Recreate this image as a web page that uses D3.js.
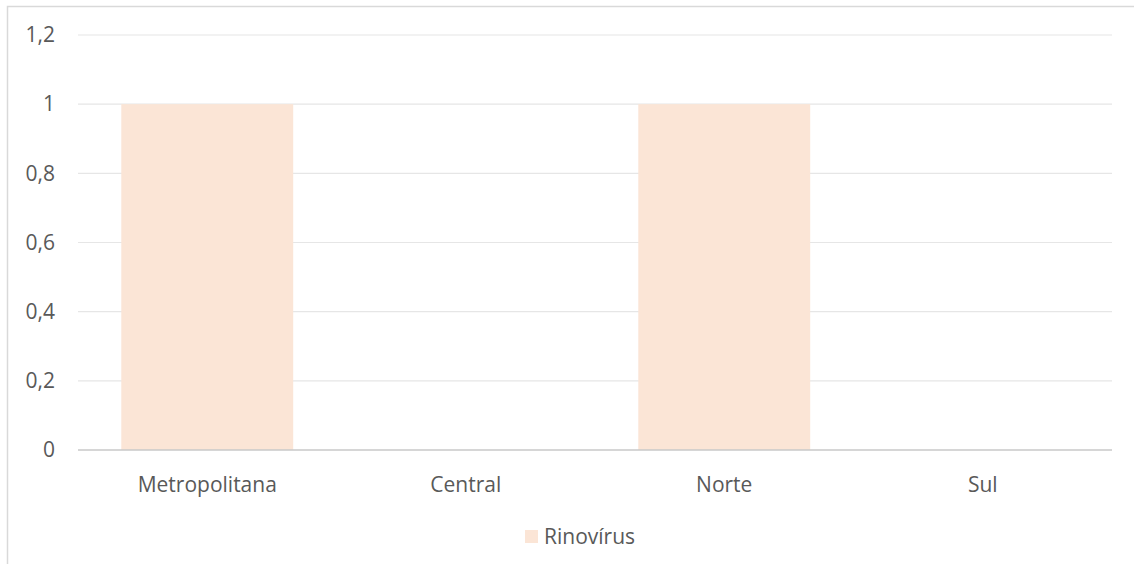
<!DOCTYPE html>
<html>
<head>
<meta charset="utf-8">
<script src="https://cdn.jsdelivr.net/npm/d3@7"></script>
<style>
  html, body { margin: 0; padding: 0; background: #fff; }
  svg { display: block; }
  text { font-family: "Open Sans", sans-serif; fill: #595959; }
</style>
</head>
<body>
<svg id="chart" width="1134" height="564"></svg>
<script>
// Regions and detections per region
const categories = ["Metropolitana", "Central", "Norte", "Sul"];
const rinovirus = [1, 0, 1, 0];
const seriesName = "Rinovírus";
const yTicks = [0, 0.2, 0.4, 0.6, 0.8, 1, 1.2];

const svg = d3.select("#chart");
const W = 1134, H = 564;
const plot = { left: 78, right: 1112, top: 35, bottom: 450 };
const FONT = "'Open Sans', sans-serif";
const FS = "21px";

// Chart frame (extends past the right and bottom edges)
svg.append("rect")
  .attr("x", 7.5).attr("y", 6.5)
  .attr("width", W + 20).attr("height", H + 20)
  .attr("fill", "#fff")
  .attr("stroke", "#d9d9d9").attr("stroke-width", 1.5);

const x = d3.scaleBand()
  .domain(categories)
  .range([plot.left, plot.right])
  .paddingInner(0.335)
  .paddingOuter(0.1675);

const y = d3.scaleLinear()
  .domain([0, 1.2])
  .range([plot.bottom, plot.top]);

const fmt = v => d3.format("")(v).replace(".", ",");

// Horizontal gridlines
svg.append("g")
  .selectAll("line")
  .data(yTicks.filter(t => t !== 0))
  .join("line")
  .attr("x1", plot.left).attr("x2", plot.right)
  .attr("y1", d => y(d)).attr("y2", d => y(d))
  .attr("stroke", "#e6e6e6").attr("stroke-width", 1.2);

// Y axis labels
const yAxis = d3.axisLeft(y).tickValues(yTicks).tickFormat(fmt).tickSize(0).tickPadding(0);
const gy = svg.append("g")
  .attr("transform", `translate(${plot.left - 23},0)`)
  .call(yAxis);
gy.select(".domain").remove();
gy.selectAll("text")
  .style("font-family", FONT)
  .style("font-size", FS)
  .attr("fill", "#595959");

// Bars
svg.append("g")
  .selectAll("rect")
  .data(categories.map((c, i) => ({ c, v: rinovirus[i] })))
  .join("rect")
  .attr("x", d => x(d.c))
  .attr("width", x.bandwidth())
  .attr("y", d => y(d.v))
  .attr("height", d => y(0) - y(d.v))
  .attr("fill", "#fbe5d6");

// Baseline
svg.append("line")
  .attr("x1", plot.left).attr("x2", plot.right)
  .attr("y1", y(0)).attr("y2", y(0))
  .attr("stroke", "#c8c8c8").attr("stroke-width", 1.5);

// X axis labels
const xAxis = d3.axisBottom(x).tickSize(0).tickPadding(0);
const gx = svg.append("g")
  .attr("transform", `translate(0,${plot.bottom + 27})`)
  .call(xAxis);
gx.select(".domain").remove();
gx.selectAll("text")
  .style("font-family", FONT)
  .style("font-size", FS)
  .attr("fill", "#595959");

// Legend
const lg = svg.append("g").attr("transform", "translate(525,530)");
lg.append("rect").attr("width", 13).attr("height", 13).attr("fill", "#fbe5d6");
lg.append("text")
  .attr("x", 19).attr("y", 14)
  .style("font-family", FONT)
  .style("font-size", FS)
  .text(seriesName);
</script>
</body>
</html>
